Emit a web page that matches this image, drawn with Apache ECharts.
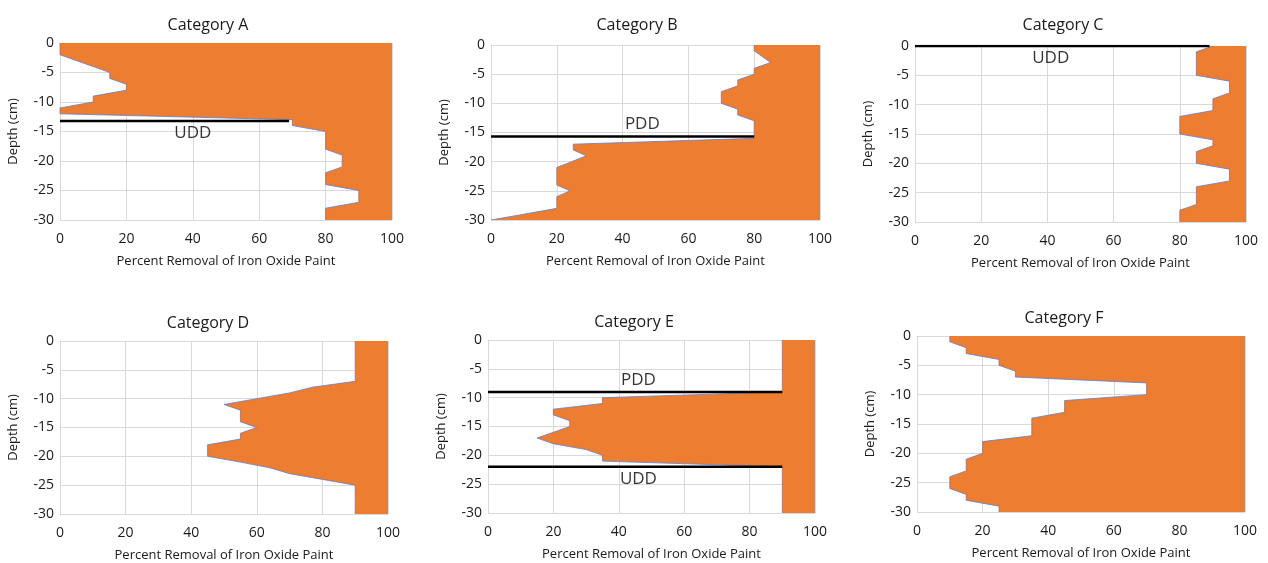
<!DOCTYPE html>
<html>
<head>
<meta charset="utf-8">
<script src="https://cdn.jsdelivr.net/npm/echarts@6/dist/echarts.min.js"></script>
<style>html,body{margin:0;padding:0;background:#fff}#main{width:1268px;height:563px}</style>
</head>
<body>
<div id="main"></div>
<script>
var titles = ['Category A', 'Category B', 'Category C', 'Category D', 'Category E', 'Category F'];
var depths = [0, -1, -2, -3, -4, -5, -6, -7, -8, -9, -10, -11, -12, -13, -14, -15,
              -16, -17, -18, -19, -20, -21, -22, -23, -24, -25, -26, -27, -28, -29, -30];

// percent removal at each depth
var removalA = [0, 0, 0, 5, 10, 15, 15, 20, 20, 10, 10, 0, 0, 70, 70, 80,
                80, 80, 80, 85, 85, 85, 80, 80, 80, 90, 90, 90, 80, 80, 80];
var removalB = [80, 80, 82.5, 85, 80, 80, 75, 75, 70, 70, 70, 75, 75, 80, 80, 80,
                80, 25, 25, 29, 24.5, 20, 20, 20, 20, 24, 20, 20, 20, 10, 0];
var removalC = [90, 85, 85, 85, 85, 85, 95, 95, 95, 90, 90, 90, 80, 80, 80, 80,
                90, 90, 85, 85, 85, 95, 95, 95, 85, 85, 85, 85, 80, 80, 80];
var removalD = [90, 90, 90, 90, 90, 90, 90, 90, 77, 70, 60, 50, 55, 55, 55, 60,
                55, 55, 45, 45, 45, 55, 64, 70, 80, 90, 90, 90, 90, 90, 90];
var removalE = [90, 90, 90, 90, 90, 90, 90, 90, 90, 90, 35, 35, 20, 20, 25, 25,
                20, 15, 20, 30, 35, 35, 90, 90, 90, 90, 90, 90, 90, 90, 90];
var removalF = [10, 10, 15, 15, 25, 25, 30, 30, 70, 70, 70, 45, 45, 45, 35, 35,
                35, 35, 20, 20, 20, 15, 15, 15, 10, 10, 10, 15, 15, 25, 25];
var removals = [removalA, removalB, removalC, removalD, removalE, removalF];

// depth marker lines (UDD / PDD)
var markerNames = [['UDD'], ['PDD'], ['UDD'], [], ['PDD', 'UDD'], []];
var markerDepths = [[-13.2], [-15.7], [0], [], [-9, -22], []];
var markerEnds = [[69], [80], [89], [], [90, 90], []];

// layout
var grids = [
    {left: 60, top: 43, width: 332, height: 177},
    {left: 491, top: 45, width: 329, height: 175},
    {left: 915, top: 46, width: 331, height: 176},
    {left: 60, top: 341, width: 328, height: 176},
    {left: 488, top: 340, width: 327, height: 173},
    {left: 917, top: 336, width: 328, height: 176}
];
var titlePos = [[203, 20], [632, 20], [1058, 20], [203, 318], [629, 317], [1059, 313]];
var labelX = [[40], [46], [41], [], [46, 46], []];
var labelSide = [[1], [-1], [1], [], [-1, 1], []];

var font = 'Open Sans';
var textColor = '#1a1a1a';

var option = {
    animation: false,
    backgroundColor: '#fff',
    title: [],
    grid: [],
    xAxis: [],
    yAxis: [],
    series: []
};

for (var i = 0; i < 6; i++) {
    option.title.push({
        text: titles[i],
        left: titlePos[i][0],
        top: titlePos[i][1],
        textAlign: 'center',
        textVerticalAlign: 'middle',
        textStyle: {fontFamily: font, fontSize: 16, fontWeight: 'normal', color: textColor}
    });
    option.grid.push(grids[i]);
    option.xAxis.push({
        type: 'value', gridIndex: i, min: 0, max: 100, interval: 20,
        name: 'Percent Removal of Iron Oxide Paint',
        nameLocation: 'middle', nameGap: 35,
        nameTextStyle: {fontFamily: font, fontSize: 13, color: textColor},
        axisLine: {show: true, lineStyle: {color: '#d9d9d9'}},
        axisTick: {show: false},
        axisLabel: {fontFamily: font, fontSize: 14, color: textColor, margin: 12},
        splitLine: {show: true, lineStyle: {color: '#d9d9d9'}}
    });
    option.yAxis.push({
        type: 'value', gridIndex: i, min: -30, max: 0, interval: 5,
        name: 'Depth (cm)',
        nameLocation: 'middle', nameGap: 40,
        nameTextStyle: {fontFamily: font, fontSize: 13, color: textColor},
        axisLine: {show: true, lineStyle: {color: '#d9d9d9'}},
        axisTick: {show: false},
        axisLabel: {fontFamily: font, fontSize: 14, color: textColor, margin: 6},
        splitLine: {show: true, lineStyle: {color: '#d9d9d9'}}
    });

    var profile = [];
    for (var k = 0; k < depths.length; k++) {
        profile.push([removals[i][k], depths[k]]);
    }
    (function (pts) {
        var poly = pts.concat([[100, -30], [100, 0]]);
        option.series.push({
            type: 'custom', xAxisIndex: i, yAxisIndex: i,
            data: [[0, 0]],
            silent: true,
            z: 2,
            renderItem: function (params, api) {
                return {
                    type: 'polygon',
                    shape: {points: poly.map(function (p) { return api.coord(p); })},
                    style: {fill: '#ED7D31'}
                };
            }
        });
    })(profile);
    option.series.push({
        type: 'line', xAxisIndex: i, yAxisIndex: i,
        data: profile, symbol: 'none', z: 3,
        lineStyle: {color: '#5b7fd0', width: 0.8}
    });

    for (var m = 0; m < markerNames[i].length; m++) {
        var d = markerDepths[i][m];
        option.series.push({
            type: 'line', xAxisIndex: i, yAxisIndex: i,
            data: [[0, d], [markerEnds[i][m], d]],
            symbol: 'none', z: 4,
            lineStyle: {color: '#000', width: 2.5}
        });
        option.series.push({
            type: 'scatter', xAxisIndex: i, yAxisIndex: i,
            data: [[labelX[i][m], d]],
            symbolSize: 1, z: 5,
            itemStyle: {color: 'rgba(0,0,0,0)'},
            label: {
                show: true, position: 'inside',
                offset: [0, labelSide[i][m] * 12],
                formatter: markerNames[i][m],
                fontFamily: font, fontSize: 17, color: '#000'
            }
        });
    }
}

var myChart = echarts.init(document.getElementById('main'));
myChart.setOption(option);
</script>
</body>
</html>
